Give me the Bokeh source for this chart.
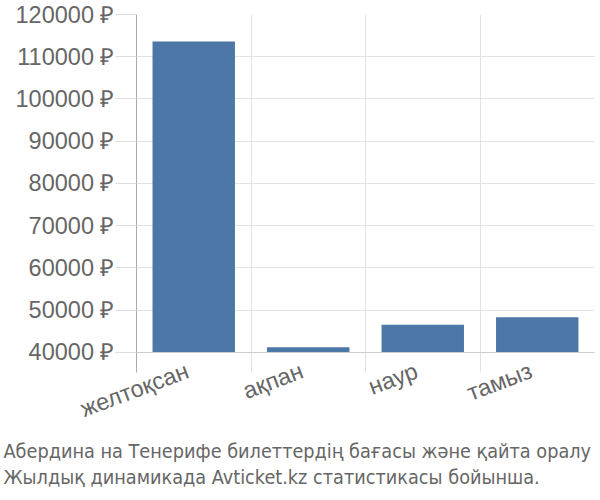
from bokeh.plotting import figure
from bokeh.models import FixedTicker, Range1d, Span, ColumnDataSource, Title
from bokeh.embed import file_html
from bokeh.resources import INLINE

categories = ["желтоқсан", "ақпан", "наур", "тамыз"]
prices = [113600, 41250, 46550, 48350]
y_ticks = [40000, 50000, 60000, 70000, 80000, 90000, 100000, 110000, 120000]
y_labels = {t: f"{t} ₽" for t in y_ticks}
caption1 = "Абердина на Тенерифе билеттердің бағасы және қайта оралу"
caption2 = "Жылдық динамикада Avticket.kz статистикасы бойынша."

base = 40000
xs = [i + 0.5 for i in range(len(categories))]
src = ColumnDataSource(dict(x=xs, top=prices, bottom=[base] * len(prices)))

p = figure(width=600, height=500, output_backend="svg", toolbar_location=None,
           x_range=Range1d(0, len(categories)), y_range=Range1d(35266, 120000),
           min_border_left=136, min_border_right=6, min_border_top=14,
           min_border_bottom=128)
p.outline_line_color = None

p.vbar(x="x", top="top", bottom="bottom", width=0.72, source=src,
       fill_color="#4c77a6", line_color=None)

tick_font = "Liberation Sans"
gray_text = "#666666"

p.yaxis.ticker = FixedTicker(ticks=y_ticks)
p.yaxis.major_label_overrides = y_labels
p.yaxis.major_label_text_font = tick_font
p.yaxis.major_label_text_font_size = "23.5px"
p.yaxis.major_label_text_color = gray_text
p.yaxis.axis_line_color = "#aaaaaa"
p.yaxis.major_tick_line_color = "#dddddd"
p.yaxis.major_tick_out = 21
p.yaxis.major_tick_in = 0
p.yaxis.minor_tick_line_color = None
p.yaxis.major_label_standoff = 1

pad = "\u00a0"
p.xaxis.ticker = FixedTicker(ticks=xs)
p.xaxis.major_label_overrides = {x: c + pad for x, c in zip(xs, categories)}
p.xaxis.major_label_text_font = tick_font
p.xaxis.major_label_text_font_size = "23.5px"
p.xaxis.major_label_text_color = gray_text
p.xaxis.major_label_orientation = 0.36
p.xaxis.axis_line_color = None
p.xaxis.major_tick_line_color = None
p.xaxis.minor_tick_line_color = None
p.xaxis.major_label_standoff = -11

p.xgrid.ticker = FixedTicker(ticks=[0, 1, 2, 3, 4])
p.xgrid.grid_line_color = "#e3e3e3"
p.ygrid.grid_line_color = "#e3e3e3"
p.add_layout(Span(location=base, dimension="width", line_color="#cccccc", line_width=1))

for txt, so in ((caption1, 0), (caption2, 2)):
    t = Title(text=txt, align="left",
              text_font="'DejaVu Sans Condensed', 'Liberation Sans Narrow', Roboto",
              text_font_size="19.7px", text_color=gray_text, text_font_style="normal",
              offset=-133, standoff=so)
    p.add_layout(t, "below")

open("out.html", "w").write(file_html(p, INLINE))
